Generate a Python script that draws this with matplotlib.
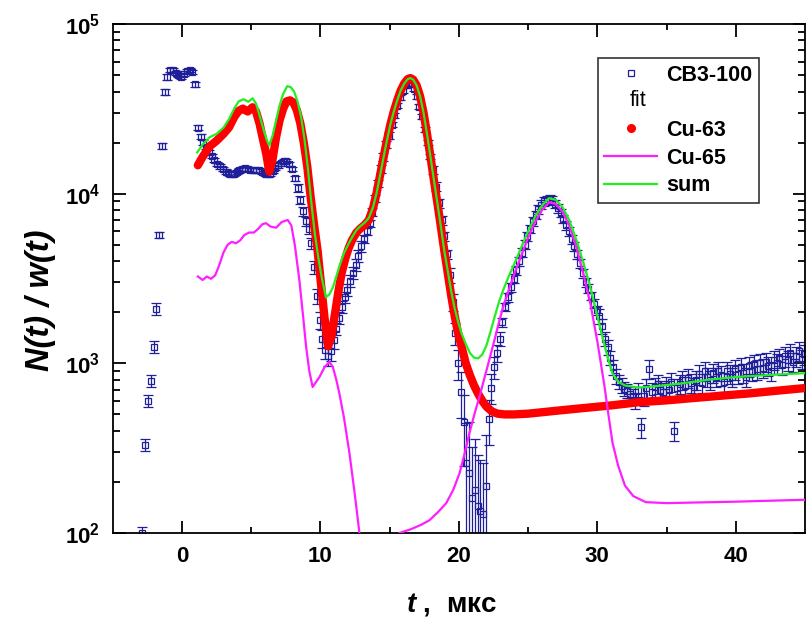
import numpy as np
import matplotlib
matplotlib.use("Agg")
import matplotlib.pyplot as plt
from matplotlib.lines import Line2D
from matplotlib.legend_handler import HandlerBase
from matplotlib.text import Text

plt.rcParams['font.family'] = ['Liberation Sans', 'DejaVu Sans']
plt.rcParams['font.weight'] = 'bold'
plt.rcParams['mathtext.fontset'] = 'custom'
plt.rcParams['mathtext.rm'] = 'Liberation Sans:bold'
plt.rcParams['mathtext.it'] = 'Liberation Sans:bold:italic'
plt.rcParams['mathtext.bf'] = 'Liberation Sans:bold'

# ---------------- data ----------------
# measured points (CB3-100), sampled every 0.2 us starting at -2.85 us
t_blue = np.round(-2.85 + 0.2 * np.arange(240), 2)
v_blue = [
    100, 330, 600, 790, 1250, 2100, 5700, 19000, 40000, 49000,
    53500, 53500, 51500, 50000, 49000, 51000, 53000, 53500, 52000, 44000,
    24500, 21700, 20000, 18800, 17500, 16700, 15800, 15000, 14500, 14000,
    13500, 13200, 13000, 13100, 13400, 13700, 14000, 14100, 14000, 13800,
    13800, 13700, 13700, 13500, 13200, 13000, 13100, 13600, 14200, 14700,
    15100, 15500, 15600, 15000, 14000, 12300, 10800, 9200, 7900, 6900,
    6200, 5100, 3700, 2500, 1800, 1400, 1200, 1100, 1180, 1380,
    1600, 1850, 2150, 2450, 2700, 3050, 3400, 3800, 4300, 4900,
    5400, 6000, 6700, 7800, 9400, 11500, 14000, 16500, 19500, 22000,
    25500, 29000, 33000, 37000, 40500, 43500, 44800, 44000, 41500, 37500,
    32500, 28500, 24000, 20000, 16500, 13800, 11000, 8800, 7000, 5600,
    4400, 3300, 2300, 1500, 1000, 680, 450, 260, 225, 160,
    180, 145, 135, 130, 190, 470, 720, 950, 1150, 1400,
    1750, 2150, 2450, 2800, 3150, 3550, 4000, 4500, 5000, 5600,
    6200, 6900, 7500, 8100, 8600, 9000, 9200, 9300, 9100, 8700,
    8200, 7700, 7100, 6500, 6000, 5400, 4900, 4400, 3900, 3400,
    3000, 2750, 2500, 2250, 2050, 1900, 1650, 1400, 1250, 1080,
    950, 840, 780, 740, 710, 690, 660, 640, 600, 700,
    420, 640, 720, 930, 680, 730, 760, 700, 680, 740,
    700, 780, 400, 720, 760, 800, 740, 820, 770, 730,
    800, 860, 770, 900, 830, 800, 880, 830, 900, 850,
    780, 900, 870, 830, 920, 870, 950, 880, 830, 960,
    900, 990, 920, 1000, 940, 1020, 970, 900, 1050, 1000,
    1080, 980, 1100, 1040, 1150, 1020, 1100, 1180, 1060, 1130,
]
rel_err_blue = ([0.08] * 6 + [0.04] * 4 + [0.03] * 45 +
                [0.04, 0.05, 0.05, 0.06, 0.06, 0.07, 0.08, 0.09, 0.10, 0.12] +
                [0.12] * 5 + [0.08] * 10 + [0.05] * 10 + [0.035] * 15 +
                [0.06] * 6 + [0.10, 0.12, 0.15, 0.20] + [0.30, 0.45, 0.70] +
                [1.0] * 7 + [0.30, 0.20, 0.15, 0.12, 0.10] +
                [0.06] * 35 + [0.10] * 15 + [0.13] * 60)

# fit component Cu-63
t_cu63 = [1.15, 1.5, 2.0, 2.5, 3.0, 3.4, 3.8, 4.1, 4.4, 4.75,
          5.1, 5.35, 5.6, 5.85, 6.1, 6.3, 6.55, 6.8, 7.05, 7.3,
          7.55, 7.8, 8.05, 8.3, 8.55, 8.8, 9.05, 9.3, 9.55, 9.8,
          10.05, 10.3, 10.55, 10.8, 11.05, 11.3, 11.55, 11.8, 12.05, 12.3,
          12.6, 12.9, 13.2, 13.5, 13.8, 14.05, 14.3, 14.55, 14.8, 15.05,
          15.3, 15.55, 15.8, 16.05, 16.3, 16.5, 16.7, 16.95, 17.2, 17.45,
          17.7, 17.95, 18.2, 18.45, 18.7, 18.95, 19.2, 19.45, 19.7, 19.95,
          20.2, 20.5, 20.8, 21.1, 21.4, 21.7, 22.0, 22.4, 22.8, 23.3,
          24.0, 25.0, 27.0, 29.0, 31.0, 33.0, 35.0, 37.0, 39.0, 41.0,
          43.0, 45.0]
v_cu63 = [14700, 16500, 19000, 20500, 22500, 24600, 28500, 30800, 31700, 30500,
          32300, 30500, 26000, 21000, 17000, 13500, 16000, 21500, 27000, 31500,
          35000, 35500, 34500, 31000, 26000, 20000, 14500, 9500, 6500, 4600,
          2900, 1850, 1260, 1450, 1950, 2650, 3450, 4150, 4800, 5350,
          5900, 6250, 6550, 7000, 8200, 10000, 12700, 16200, 20500, 25500,
          30500, 35500, 40500, 44500, 47300, 48000, 47000, 43500, 37500, 30000,
          22500, 16500, 12000, 8800, 6400, 4600, 3400, 2500, 1900, 1500,
          1250, 1000, 850, 740, 660, 600, 555, 520, 505, 500,
          500, 505, 525, 545, 565, 590, 605, 625, 645, 665,
          690, 715]

# fit component Cu-65
t_cu65 = [1.15, 1.5, 1.8, 2.1, 2.4, 2.7, 3.0, 3.3, 3.6, 3.9,
          4.2, 4.5, 4.85, 5.2, 5.5, 5.8, 6.07, 6.4, 6.8, 7.2,
          7.64, 7.9, 8.15, 8.48, 8.75, 8.97, 9.2, 9.44, 9.7, 9.93,
          10.3, 10.65, 10.9, 11.15, 11.37, 11.7, 12.1, 12.5, 12.82, 13.3,
          14.3, 15.0, 15.7, 16.5, 17.3, 17.88, 18.5, 19.09, 19.6, 20.05,
          20.4, 20.77, 21.15, 21.5, 21.85, 22.2, 22.6, 22.9, 23.2, 23.6,
          24.0, 24.5, 25.0, 25.5, 26.0, 26.5, 27.0, 27.5, 28.0, 28.5,
          29.0, 29.5, 30.0, 30.5, 30.8, 31.1, 31.5, 32.0, 32.6, 33.5,
          35.0, 40.0, 45.0]
v_cu65 = [3250, 3100, 3250, 3150, 3300, 3800, 4500, 5000, 5200, 5100,
          5300, 5700, 5900, 5900, 6200, 6600, 6700, 6400, 6300, 6800,
          7000, 6500, 5000, 3100, 1900, 1250, 900, 725, 780, 830,
          950, 1020, 950, 800, 665, 480, 295, 165, 100, 60,
          45, 65, 100, 105, 112, 119, 133, 150, 180, 225,
          290, 390, 510, 640, 820, 1050, 1400, 1750, 2150, 2700,
          3350, 4300, 5500, 6800, 8000, 8900, 8700, 7800, 6400, 4800,
          3350, 2250, 1350, 750, 500, 340, 250, 190, 165, 152,
          150, 153, 157]

# sum of the fit
t_sum = [1.1, 1.5, 2.0, 2.5, 3.0, 3.4, 3.8, 4.1, 4.45, 4.8,
         5.1, 5.35, 5.6, 5.85, 6.1, 6.3, 6.55, 6.8, 7.05, 7.3,
         7.6, 7.85, 8.1, 8.35, 8.6, 8.85, 9.1, 9.35, 9.6, 9.85,
         10.1, 10.4, 10.65, 10.9, 11.15, 11.4, 11.7, 12.0, 12.3, 12.6,
         12.9, 13.2, 13.5, 13.8, 14.05, 14.3, 14.55, 14.8, 15.05, 15.3,
         15.55, 15.8, 16.05, 16.3, 16.5, 16.7, 16.95, 17.2, 17.45, 17.7,
         17.95, 18.2, 18.45, 18.7, 18.95, 19.2, 19.45, 19.7, 19.95, 20.2,
         20.5, 20.8, 21.1, 21.4, 21.7, 22.0, 22.3, 22.6, 22.9, 23.2,
         23.6, 24.0, 24.5, 25.0, 25.5, 26.0, 26.5, 27.0, 27.5, 28.0,
         28.5, 29.0, 29.5, 30.0, 30.5, 30.8, 31.1, 31.5, 32.0, 33.0,
         34.0, 36.0, 38.0, 40.0, 42.0, 45.0]
v_sum = [17500, 19500, 21500, 22500, 24500, 27500, 32000, 35000, 36000, 34800,
         36500, 34000, 29000, 24500, 21000, 19200, 22000, 27000, 33000, 38500,
         43000, 42500, 40000, 35000, 28500, 21000, 14000, 8800, 5800, 4200,
         3200, 2450, 2550, 2800, 3250, 3800, 4450, 5000, 5550, 6100,
         6450, 6750, 7200, 8300, 10000, 12700, 16200, 20500, 25500, 30500,
         35500, 40500, 44500, 47300, 48000, 47000, 43500, 37500, 30000, 22500,
         16500, 12000, 8800, 6400, 4600, 3500, 2650, 2100, 1750, 1500,
         1300, 1150, 1080, 1070, 1130, 1280, 1550, 1900, 2300, 2700,
         3250, 3850, 4800, 6000, 7300, 8500, 9400, 9200, 8300, 6900,
         5300, 3900, 2800, 1900, 1300, 1050, 870, 780, 740, 720,
         730, 760, 800, 830, 850, 875]

x_major = [0, 10, 20, 30, 40]
x_minor = [5, 15, 25, 35]
legend_labels = ['CB3-100', 'fit', 'Cu-63', 'Cu-65', 'sum']

BLUE = '#1f1f99'
RED = '#ff0000'
MAG = '#ff1eff'
GREEN = '#22ee22'

# ---------------- figure ----------------
fig = plt.figure(figsize=(8.11, 6.2), dpi=100)
ax = fig.add_axes([112.7 / 811, 1 - 533 / 620, 692.3 / 811, 509 / 620])

v_b = np.array(v_blue, dtype=float)
err = v_b * np.array(rel_err_blue)
ax.errorbar(t_blue, v_b, yerr=err, fmt='s', ms=4.2, mfc='none', mec=BLUE,
            mew=0.9, ecolor=BLUE, elinewidth=0.9, capsize=3.4, capthick=0.9,
            zorder=2)
ax.plot(t_cu63, v_cu63, color=RED, lw=6.0, solid_capstyle='round',
        solid_joinstyle='round', zorder=3)
ax.plot(t_cu65, v_cu65, color=MAG, lw=1.6, zorder=4)
ax.plot(t_sum, v_sum, color=GREEN, lw=1.6, zorder=5)

ax.set_yscale('log')
ax.set_ylim(100, 1e5)
ax.set_xlim(-5, 45)
ax.set_xticks(x_major)
ax.set_xticks(x_minor, minor=True)

for s in ax.spines.values():
    s.set_linewidth(1.3)
ax.tick_params(which='both', direction='in', top=True, right=True, width=1.3)
ax.tick_params(which='major', length=9, labelsize=16, pad=9)
ax.tick_params(axis='x', which='minor', length=4)
ax.tick_params(axis='y', which='minor', length=5)
for lab in ax.get_xticklabels() + ax.get_yticklabels():
    lab.set_fontweight('bold')

fig.text(40 / 811, 1 - 300 / 620, 'N(t) / w(t)', rotation=90, ha='center',
         va='center', fontsize=23.5, fontweight='bold', fontstyle='italic')
fig.text(452 / 811, 1 - 604 / 620, r'$t$ ,  мкс', ha='center', va='center',
         fontsize=20, fontweight='bold')


# ---------------- legend ----------------
class FitProxy:
    pass


class TextHandler(HandlerBase):
    def create_artists(self, legend, orig_handle, xdescent, ydescent,
                       width, height, fontsize, trans):
        t = Text(width * 0.65 - xdescent, height / 2 - ydescent, legend_labels[1],
                 ha='center', va='center', fontsize=fontsize,
                 fontweight='normal', transform=trans)
        return [t]


handles = [
    Line2D([], [], ls='none', marker='s', ms=4.2, mfc='none', mec=BLUE, mew=0.9),
    FitProxy(),
    Line2D([], [], ls='none', marker='o', ms=5.5, color=RED),
    Line2D([], [], color=MAG, lw=1.6),
    Line2D([], [], color=GREEN, lw=1.6),
]
labels = [legend_labels[0], '', legend_labels[2], legend_labels[3], legend_labels[4]]
leg = ax.legend(handles, labels, handler_map={FitProxy: TextHandler()},
                loc='upper left', bbox_to_anchor=(0.701, 0.933),
                bbox_transform=ax.transAxes, frameon=True, fancybox=False,
                edgecolor='#333333', framealpha=1,
                prop=dict(family='Liberation Sans', weight='bold', size=15.5),
                handlelength=2.42, handletextpad=0.45, labelspacing=0.31,
                borderpad=0.3, borderaxespad=0)
leg.get_frame().set_linewidth(1.2)

fig.savefig('out.png', dpi=100)
